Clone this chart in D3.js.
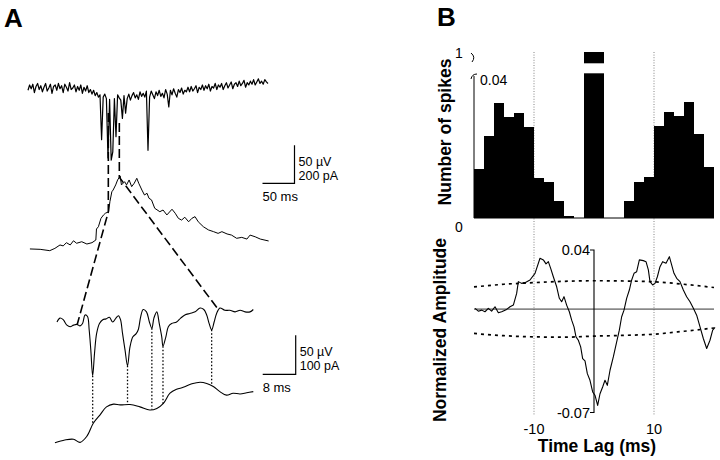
<!DOCTYPE html>
<html><head><meta charset="utf-8">
<script src="https://cdn.jsdelivr.net/npm/d3@7"></script>
<style>body{margin:0;background:#fff}svg{display:block}text{font-family:"Liberation Sans",Arial,sans-serif;fill:#000}</style>
</head><body><svg id="c" width="720" height="460"></svg>
<script>
// ---------- Panel A data ----------
// overview extracellular trace (µV), sampled every 2.5 ms
const sampleDt = 2.5;
const extraOverview = [-3,4,-1,5,-6,2,6,-2,3,-5,
 1,6,-4,0,5,-7,2,4,-3,6,
 -1,3,-6,5,1,-4,7,-2,0,4,
 -5,2,-3,4,-7,1,-4,3,-6,-2,
 -8,-3,-10,-6,-12,-9,
 -68,-12,-8,-14,-92,-15,-95,-84,-14,-64,-9,-13,-16,-40,-10,-33,
 -14,-8,-16,-10,-6,-13,-9,-15,-5,-11,-7,-12,-4,
 -82,
 -12,-4,-9,-14,-5,-10,-3,-11,-7,-13,-2,-8,
 -25,
 -3,-9,-1,-7,-12,-2,-6,0,-8,-3,-5,
 1,-5,2,-4,-1,3,-6,1,-2,4,
 -3,3,-1,5,-4,2,0,6,-2,4,
 1,6,-2,3,7,0,4,8,-1,5,
 7,2,9,3,6,10,1,7,4,9,
 5,11,4,8,12,6,9,5,11,8,6];
// overview synaptic current (pA)
const currTime = [3,19,34,42,50,55,60,66,71,76,84,92,100,106,107,110,114,118,121,126,128,131,133,137,140,144,146,151,154,158,162,166,170,173,178,182,186,189,193,198,206,211,217,225,230,235,240,245,251,256,261,266,274,282,290,297,303,311,318,326,334,342,347,355,363,376];
const currPA =   [-5,-7,-14,-2,16,11,28,16,38,25,33,21,28,42,100,112,156,174,183,191,244,296,305,332,358,379,332,349,332,358,323,341,367,341,305,279,288,262,253,209,191,200,174,204,183,156,147,162,138,156,165,138,112,95,86,77,86,74,68,51,56,47,68,59,47,37];
// expanded extracellular trace (µV)
const expTime = [0,0.7,1.5,2.4,3.2,4.0,4.8,5.6,6.2,6.8,7.4,7.8,8.2,8.65,9.1,9.6,10.3,11.1,11.9,12.7,13.5,14.3,14.9,15.4,15.9,16.5,17.1,17.7,18.4,19.2,19.7,20.3,20.9,21.7,22.4,23.0,23.5,24.2,24.8,25.4,25.7,26.4,27.0,27.8,29.0,30.0,31.0,32.2,33.5,34.7,35.6,36.3,36.9,37.5,38.1,38.7,39.5,40.7,41.9,43.2,44.4,45.6,46.8,47.6];
const expUV =   [0,5,3,-4,-6,-4,-3,-5,-2,9,7,-10,-36,-69,-40,-15,-2,3,4,6,0,5,8,3,-15,-36,-56,-32,-19,-15,-10,7,16,13,0,-8,5,13,-2,-19,-31,-19,-6,-2,0,5,9,11,13,18,16,9,-2,-10,0,11,18,15,15,13,15,13,13,16];
// expanded synaptic current (pA)
const expCurrTime = [-0.5,1.9,4.0,5.6,7.2,8.8,10.4,12.0,13.7,15.3,17.7,20.1,22.5,24.2,25.8,27.4,29.0,30.6,32.7,34.7,36.3,37.9,39.5,41.1,42.7,44.4,46.0,47.6];
const expCurrPA =   [-7,0,2,-6,9,43,64,85,92,90,91,85,77,81,94,120,130,135,144,148,145,137,124,115,120,118,121,124];
// spikes marked in the expanded view (ms)
const spikeTimes = [8.65,17.1,23.0,25.7,37.5];
// zoom connectors: overview time -> expanded time
const zoomFrom = [125.5,142.7];
const zoomTo = [4.9,39.2];
const zoomStartUV = [-33,-46];

// ---------- Panel B data ----------
const binCenters = [-19.17,-17.5,-15.83,-14.17,-12.5,-10.83,-9.17,-7.5,-5.83,-4.17,-2.5,-0.83,0.83,2.5,4.17,5.83,7.5,9.17,10.83,12.5,14.17,15.83,17.5,19.17];
const spikeCounts = [0.0141,0.0235,0.0328,0.0288,0.0301,0.0261,0.0115,0.0102,0.0049,0.0006,0,1,1,0,0,0.0050,0.0103,0.0118,0.0264,0.0304,0.0292,0.0332,0.0240,0.0147];
const binWidth = 1.667;
const staLag = [-19.83,-19.28,-18.72,-18.17,-17.61,-17.06,-16.5,-15.94,-15.39,-14.56,-14.0,-13.44,-12.89,-12.61,-12.06,-11.5,-10.67,-9.83,-9.0,-8.44,-8.0,-7.61,-7.22,-6.78,-6.22,-5.78,-5.39,-5.0,-4.56,-4.11,-3.72,-3.33,-3.0,-2.61,-2.22,-1.89,-1.5,-1.11,-0.67,-0.22,0.17,0.61,1.0,1.44,1.83,2.22,2.67,3.22,3.78,4.22,4.61,5.0,5.44,5.89,6.28,6.67,7.11,7.56,8.22,8.67,9.06,9.33,9.78,10.17,10.56,11.0,11.44,12.0,12.56,12.94,13.33,13.78,14.33,14.89,15.44,16.0,16.56,17.11,17.67,18.22,18.78,19.33,19.78,20.17];
const staAmp = [0.0005,-0.0014,-0.0007,-0.0018,0.0005,-0.0014,0.0016,-0.0025,-0.0018,-0.0002,0.0016,0.0027,0.0106,0.0186,0.0174,0.0179,0.0197,0.0242,0.0344,0.0333,0.0306,0.0321,0.0276,0.0219,0.0151,0.0073,0.0050,0.0084,0.0027,-0.0018,-0.0075,-0.0120,-0.0188,-0.0211,-0.0256,-0.0335,-0.0351,-0.0437,-0.0482,-0.0561,-0.0584,-0.0652,-0.0573,-0.0527,-0.0482,-0.0516,-0.0414,-0.0324,-0.0222,-0.0143,-0.0052,-0.0007,0.0073,0.0129,0.0197,0.0242,0.0253,0.0333,0.0328,0.0321,0.0265,0.0186,0.0163,0.0174,0.0219,0.0287,0.0321,0.0310,0.0355,0.0299,0.0242,0.0208,0.0186,0.0129,0.0084,0.0050,0.0005,-0.0041,-0.0120,-0.0199,-0.0267,-0.0211,-0.0143,-0.0124];
const ciLag = [-20,-15,-10,-5,0,5,10,15,20];
const ciUpper = [0.0150,0.0168,0.0179,0.0188,0.0192,0.0190,0.0185,0.0168,0.0146];
const ciLower = [-0.0165,-0.0180,-0.0188,-0.0190,-0.0183,-0.0178,-0.0170,-0.0150,-0.0128];
const lagTicks = [-10,10];
const ampTicks = [0.04,-0.07];

// ---------- drawing ----------
const svg = d3.select("#c");
const txt = (x,y,s,size,opts={}) => svg.append("text").attr("x",x).attr("y",y).text(s)
  .attr("font-size",size).attr("font-weight",opts.bold?"bold":"normal")
  .attr("text-anchor",opts.anchor||"start").attr("transform",opts.rot?`rotate(-90,${x},${y})`:null);

txt(4,27,"A",26,{bold:true});
txt(437,26,"B",26,{bold:true});

// Panel A scales
const xA = d3.scaleLinear().domain([0,375]).range([28,268]);
const yV = d3.scaleLinear().domain([0,50]).range([88,50]);
const yI = d3.scaleLinear().domain([0,200]).range([248,210]);
const xE = d3.scaleLinear().domain([0,47.6]).range([57,253.3]);
const yVE = d3.scaleLinear().domain([0,50]).range([322,283]);
const yIE = d3.scaleLinear().domain([0,100]).range([440,401]);

const interp = (ts,vs,t) => { const i = Math.max(1,Math.min(ts.length-1,d3.bisectLeft(ts,t)));
  const f = (t-ts[i-1])/(ts[i]-ts[i-1]); return vs[i-1]+f*(vs[i]-vs[i-1]); };

const gA = svg.append("g").attr("fill","none").attr("stroke","#000");
gA.append("path").attr("stroke-width",1.2).attr("stroke-linejoin","round")
  .attr("d", d3.line().x((d,i)=>xA(i*sampleDt)).y(d=>yV(d))(extraOverview));
gA.append("path").attr("stroke-width",1)
  .attr("d", d3.line().x(d=>xA(d[0])).y(d=>yI(d[1]))(d3.zip(currTime,currPA)));
gA.append("path").attr("stroke-width",1.1)
  .attr("d", d3.line().curve(d3.curveCatmullRom).x(d=>xE(d[0])).y(d=>yVE(d[1]))(d3.zip(expTime,expUV)));
gA.append("path").attr("stroke-width",1.1)
  .attr("d", d3.line().curve(d3.curveCatmullRom).x(d=>xE(d[0])).y(d=>yIE(d[1]))(d3.zip(expCurrTime,expCurrPA)));
// dotted spike markers
spikeTimes.forEach(t=>{
  gA.append("line").attr("x1",xE(t)).attr("x2",xE(t))
    .attr("y1",yVE(interp(expTime,expUV,t))).attr("y2",yIE(interp(expCurrTime,expCurrPA,t)))
    .attr("stroke-width",1.3).attr("stroke-dasharray","1.5,2");
});
// zoom connectors
zoomFrom.forEach((t,k)=>{
  const xo = xA(t), yo = yI(interp(currTime,currPA,t));
  gA.append("path").attr("stroke-width",1.6).attr("stroke-dasharray","9,4")
    .attr("d",`M${xo},${yV(zoomStartUV[k])}L${xo},${yo}L${xE(zoomTo[k])},${yVE(interp(expTime,expUV,zoomTo[k]))}`);
});
// scale bars
function scaleBar(x0,y0,w,h,labels,timeLabel){
  gA.append("path").attr("stroke-width",1.2).attr("d",`M${x0-w},${y0}H${x0}V${y0-h}`);
  txt(x0+4,y0-h+21,labels[0],12.5);
  txt(x0+4,y0-h+35,labels[1],12.5);
  txt(x0-w,y0+18,timeLabel,13);
}
scaleBar(294.5,183.3,xA(50)-xA(0),yV(0)-yV(50),["50 \u00B5V","200 pA"],"50 ms");
scaleBar(295.7,374.3,xE(8)-xE(0),yVE(0)-yVE(50),["50 \u00B5V","100 pA"],"8 ms");

// Panel B
const xB = d3.scaleLinear().domain([-20,20]).range([474,714]);
const yH = d3.scaleLinear().domain([0,0.04,1]).range([218,78,52]);
const yA = d3.scaleLinear().domain([-0.07,0.04]).range([412.5,250]);
const gB = svg.append("g");
// dotted guides
lagTicks.forEach(l=>gB.append("line").attr("x1",xB(l)).attr("x2",xB(l)).attr("y1",52).attr("y2",416)
  .attr("stroke","#777").attr("stroke-width",0.9).attr("stroke-dasharray","1,1.6"));
// histogram
gB.selectAll("rect.bar").data(d3.zip(binCenters,spikeCounts).filter(d=>d[1]>0)).join("rect")
  .attr("x",d=>xB(d[0]-binWidth/2)).attr("width",xB(binWidth)-xB(0)+0.4)
  .attr("y",d=>yH(d[1])).attr("height",d=>yH(0)-yH(d[1])).attr("fill","#000").attr("shape-rendering","crispEdges");
// break gap in center bar
gB.append("rect").attr("x",xB(-2)).attr("width",xB(2)-xB(-2)).attr("y",63.3).attr("height",10).attr("fill","#fff");
gB.append("line").attr("x1",xB(-20)).attr("x2",xB(20)).attr("y1",yH(0)).attr("y2",yH(0)).attr("stroke","#000").attr("stroke-width",1);
gB.append("line").attr("x1",xB(-20)).attr("x2",xB(-20)).attr("y1",76).attr("y2",yH(0)).attr("stroke","#000").attr("stroke-width",1);
gB.append("path").attr("fill","none").attr("stroke","#000").attr("stroke-width",1)
  .attr("d","M471,53 Q476,57 472,62 M471,79 Q472,74 477,74");
txt(xB(-20)-15,yH(1)+6,"1",14,{anchor:"middle"});
txt(xB(-20)-15,yH(0)+14,"0",14,{anchor:"middle"});
txt(xB(-20)+6,yH(0.04)+7,"0.04",14);
txt(451,132,"Number of spikes",17.5,{bold:true,anchor:"middle",rot:true});

// STA panel
const gS = svg.append("g").attr("fill","none");
gS.append("line").attr("x1",xB(-20)).attr("x2",xB(20)).attr("y1",yA(0)).attr("y2",yA(0)).attr("stroke","#333").attr("stroke-width",1);
gS.append("path").attr("stroke","#000").attr("stroke-width",1.1)
  .attr("d",`M${xB(0)-4},${yA(0.04)}H${xB(0)}V${yA(-0.07)}H${xB(0)-4}`);
[ciUpper,ciLower].forEach(arr=>gS.append("path").attr("stroke","#000").attr("stroke-width",1.7).attr("stroke-dasharray","3,4")
  .attr("d",d3.line().curve(d3.curveMonotoneX).x(d=>xB(d[0])).y(d=>yA(d[1]))(d3.zip(ciLag,arr))));
gS.append("path").attr("stroke","#000").attr("stroke-width",1.1).attr("stroke-linejoin","round")
  .attr("d",d3.line().x(d=>xB(d[0])).y(d=>yA(d[1]))(d3.zip(staLag,staAmp)));
ampTicks.forEach(v=>txt(xB(0)-4,yA(v)+5,v.toFixed(2),14.5,{anchor:"end"}));
lagTicks.forEach(l=>txt(xB(l),434,String(l),14.5,{anchor:"middle"}));
txt(xB(0)+3,452,"Time Lag (ms)",17.5,{bold:true,anchor:"middle"});
txt(446,330,"Normalized Amplitude",17.5,{bold:true,anchor:"middle",rot:true});
</script></body></html>
